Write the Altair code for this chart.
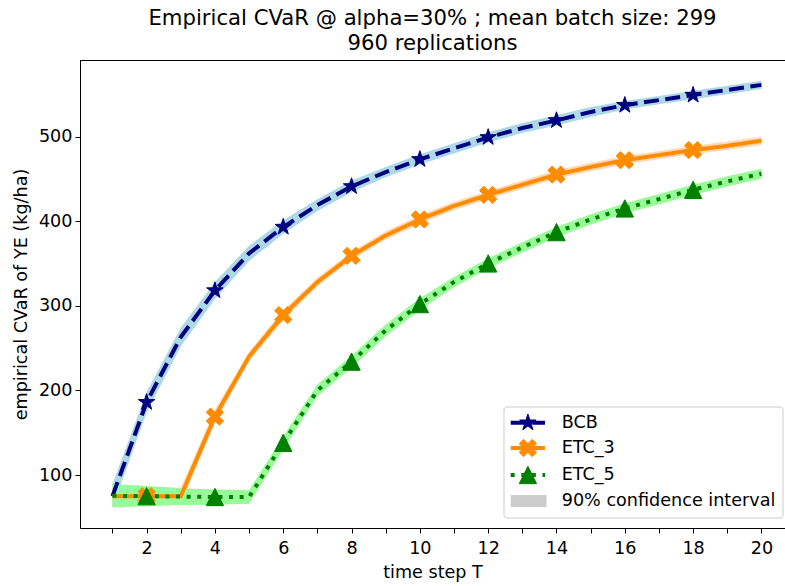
import math
import altair as alt
import pandas as pd

# ---------------- data ----------------
T = list(range(1, 21))
series_names = ["BCB", "ETC_3", "ETC_5"]
bcb = [75, 186, 263, 318, 362, 393, 419, 441, 458, 473, 486, 499, 510, 519, 529, 537, 543, 549, 555, 561]
etc3 = [75, 75, 75, 169, 240, 289, 328, 359, 383, 402, 418, 431, 443, 455, 464, 472, 478, 484, 489, 495]
etc5 = [75.5, 75, 74.5, 74, 74, 138, 200, 234, 271, 302, 328, 350, 369, 387, 402, 415, 426, 437, 447, 456]
# half-width of the 90% confidence interval
bcb_hw = [14, 12, 11, 10, 9, 8, 7, 7, 6, 6, 6, 6, 6, 6, 6, 5, 5, 5, 5, 5]
etc3_hw = [13, 11, 10, 8, 6, 6, 5, 5, 5, 5, 5, 5, 5, 5, 5, 5, 5, 5, 5, 5]
etc5_hw = [14, 12, 10, 9, 8, 8, 7, 7, 7, 7, 6, 6, 6, 6, 6, 6, 6, 6, 6, 6]
marker_T = [2, 4, 6, 8, 10, 12, 14, 16, 18]
x_ticks = list(range(1, 21))
y_ticks = [100, 200, 300, 400, 500]

title_lines = ["Empirical CVaR @ alpha=30% ; mean batch size: 299", "960 replications"]
x_title = "time step T"
y_title = "empirical CVaR of YE (kg/ha)"
ci_label = "90% confidence interval"

# ---------------- styles ----------------
FONT = "DejaVu Sans"
FS = 17.6
TFS = 21.2
line_colors = {"BCB": "#000080", "ETC_3": "#ff8c00", "ETC_5": "#008000"}
band_colors = {"BCB": "#add8e6", "ETC_3": "#ffdab9", "ETC_5": "#98fb98"}
dashes = {"BCB": [15, 6.5], "ETC_3": [1, 0], "ETC_5": [4, 6.6]}


def star_path():
    pts = []
    for i in range(10):
        r = 1.0 if i % 2 == 0 else 0.381966
        a = math.radians(-90 + 36 * i)
        pts.append((r * math.cos(a), r * math.sin(a)))
    return "M" + "L".join(f"{x:.4f},{y:.4f}" for x, y in pts) + "Z"


def x_path():
    plus = [(1/3, 0), (2/3, 0), (2/3, 1/3), (1, 1/3), (1, 2/3), (2/3, 2/3), (2/3, 1),
            (1/3, 1), (1/3, 2/3), (0, 2/3), (0, 1/3), (1/3, 1/3)]
    c = math.cos(math.radians(45))
    pts = []
    for px, py in plus:
        px -= 0.5
        py -= 0.5
        rx = px * c - py * c
        ry = px * c + py * c
        pts.append((rx / 0.4714, ry / 0.4714))
    return "M" + "L".join(f"{x:.4f},{y:.4f}" for x, y in pts) + "Z"


shapes = {"BCB": star_path(), "ETC_3": x_path(), "ETC_5": "M0,-1L1,1L-1,1Z"}
MSIZE = 300

rows = []
for name, vals, hws in zip(series_names, [bcb, etc3, etc5], [bcb_hw, etc3_hw, etc5_hw]):
    for t, v, h in zip(T, vals, hws):
        rows.append({"series": name, "T": t, "value": v, "lo": v - h, "hi": v + h,
                     "marker": t in marker_T})
df = pd.DataFrame(rows)

W, H = 705, 468
xscale = alt.Scale(domain=[0.05, 20.69], nice=False, zero=False)
yscale = alt.Scale(domain=[37.4, 590.4], nice=False, zero=False)

xenc = alt.X("T:Q", scale=xscale,
             axis=alt.Axis(values=x_ticks, title=x_title,
                           labelExpr="datum.value % 2 == 0 ? datum.label : ''"))
yaxis = alt.Axis(values=y_ticks, title=y_title)
yenc = alt.Y("value:Q", scale=yscale, axis=yaxis)

base = alt.Chart(df)
layers = []
for name in series_names:
    layers.append(
        base.transform_filter(alt.datum.series == name)
        .mark_area(color=band_colors[name], opacity=1)
        .encode(x=xenc, y=alt.Y("lo:Q", scale=yscale, axis=yaxis), y2="hi:Q")
    )
for name in series_names:
    layers.append(
        base.transform_filter(alt.datum.series == name)
        .mark_line(color=line_colors[name], strokeWidth=4, strokeDash=dashes[name], strokeCap="butt")
        .encode(x=xenc, y=yenc)
    )
    layers.append(
        base.transform_filter((alt.datum.series == name) & alt.datum.marker)
        .mark_point(shape=shapes[name], filled=True, size=MSIZE, color=line_colors[name],
                    stroke=line_colors[name], strokeWidth=1, opacity=1)
        .encode(x=xenc, y=yenc)
    )

one = pd.DataFrame({"k": [0]})
# top spine
layers.append(alt.Chart(one).mark_rule(color="black", strokeWidth=1)
              .encode(x=alt.value(0), x2=alt.value(W), y=alt.value(0.5)))

# legend (manual, matplotlib style)
LX0, LX1, LY0, LY1 = 424, 703, 347, 458
layers.append(alt.Chart(one).mark_rect(fill="white", fillOpacity=0.8, stroke="#cccccc",
                                       strokeWidth=1, cornerRadius=3)
              .encode(x=alt.value(LX0), x2=alt.value(LX1), y=alt.value(LY0), y2=alt.value(LY1)))
row_y = [362.7, 388, 415, 441]
seg0, seg1, segm, textx = 430.7, 465, 447.9, 481.7
for i, name in enumerate(series_names):
    yy = row_y[i]
    layers.append(alt.Chart(one).mark_rule(color=line_colors[name], strokeWidth=4,
                                           strokeDash=dashes[name], strokeCap="butt")
                  .encode(x=alt.value(seg0), x2=alt.value(seg1), y=alt.value(yy)))
    layers.append(alt.Chart(one).mark_point(shape=shapes[name], filled=True, size=MSIZE,
                                            color=line_colors[name], stroke=line_colors[name],
                                            strokeWidth=1, opacity=1)
                  .encode(x=alt.value(segm), y=alt.value(yy)))
    layers.append(alt.Chart(one).mark_text(text=name, font=FONT, fontSize=FS, align="left",
                                           baseline="middle", color="black")
                  .encode(x=alt.value(textx), y=alt.value(yy)))
layers.append(alt.Chart(one).mark_rect(fill="#cccccc")
              .encode(x=alt.value(seg0), x2=alt.value(seg1 + 1.5), y=alt.value(row_y[3] - 6),
                      y2=alt.value(row_y[3] + 6)))
layers.append(alt.Chart(one).mark_text(text=ci_label, font=FONT, fontSize=FS, align="left",
                                       baseline="middle", color="black")
              .encode(x=alt.value(textx), y=alt.value(row_y[3])))

chart = (
    alt.layer(*layers)
    .properties(
        width=W, height=H,
        autosize=alt.AutoSizeParams(type="none"),
        padding={"left": 80, "top": 60, "right": 0, "bottom": 58},
        title=alt.TitleParams(title_lines, font=FONT, fontSize=TFS, fontWeight="normal",
                              color="black", anchor="middle", lineHeight=25, offset=6),
    )
    .configure_view(stroke=None)
    .configure_axis(grid=False, domainColor="black", tickColor="black", labelColor="black",
                    titleColor="black", labelFont=FONT, titleFont=FONT, labelFontSize=FS,
                    titleFontSize=FS, titleFontWeight="normal", tickSize=5, domainWidth=1,
                    tickWidth=1, labelPadding=3, titlePadding=4)
    .configure_axisY(titlePadding=8)
    .configure_axisX(labelPadding=6, titlePadding=7)
)

chart.save("out.html", embed_options={"renderer": "svg", "actions": False})
